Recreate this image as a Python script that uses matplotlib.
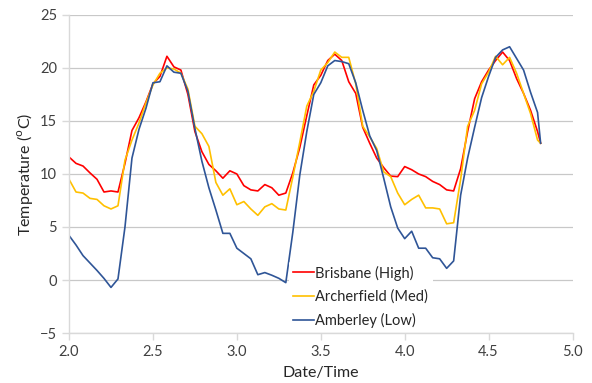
import numpy as np
import matplotlib.pyplot as plt

# hourly readings (days since start), last point at end of record
hours = np.arange(68)
time_days = np.append(2 + hours / 24, 4.81)

brisbane = [11.6, 11.0, 10.75, 10.1, 9.5, 8.3, 8.4, 8.3, 11.0, 14.1,
            15.3, 16.8, 18.5, 19.2, 21.1, 20.1, 19.8, 17.5, 14.0, 12.1,
            10.9, 10.3, 9.6, 10.3, 10.0, 8.9, 8.5, 8.4, 9.0, 8.7,
            8.0, 8.2, 10.1, 12.5, 15.5, 18.4, 19.3, 20.7, 21.3, 20.7,
            18.7, 17.6, 14.4, 12.9, 11.5, 10.6, 9.8, 9.75, 10.7, 10.4,
            10.0, 9.75, 9.3, 9.0, 8.5, 8.4, 10.5, 14.0, 17.1, 18.7,
            19.8, 20.7, 21.5, 20.7, 19.0, 17.6, 16.0, 14.0, 12.9]

archerfield = [9.5, 8.3, 8.2, 7.7, 7.6, 7.0, 6.7, 7.0, 11.3, 13.2,
               14.8, 16.7, 18.4, 19.5, 20.0, 19.9, 19.5, 18.0, 14.5, 13.8,
               12.6, 9.2, 8.0, 8.6, 7.1, 7.4, 6.7, 6.1, 6.9, 7.2,
               6.7, 6.6, 9.7, 13.0, 16.4, 17.8, 19.8, 20.5, 21.5, 21.0,
               21.0, 18.5, 14.5, 13.5, 12.4, 10.2, 9.75, 8.2, 7.1, 7.6,
               8.0, 6.8, 6.8, 6.7, 5.3, 5.4, 9.5, 14.5, 16.0, 18.5,
               19.6, 21.1, 20.3, 21.0, 19.5, 17.6, 15.7, 13.2, 12.9]

amberley = [4.2, 3.3, 2.3, 1.6, 0.9, 0.15, -0.7, 0.1, 5.0, 11.5,
            14.2, 16.2, 18.6, 18.7, 20.2, 19.6, 19.5, 17.8, 14.3, 11.2,
            8.7, 6.6, 4.4, 4.4, 3.0, 2.5, 2.0, 0.5, 0.7, 0.45,
            0.16, -0.25, 4.5, 9.9, 14.0, 17.5, 18.6, 20.2, 20.7, 20.6,
            20.4, 18.6, 16.0, 13.6, 12.2, 9.6, 6.9, 4.9, 3.9, 4.6,
            3.0, 3.0, 2.1, 2.0, 1.1, 1.8, 8.0, 11.5, 14.4, 17.2,
            19.2, 21.0, 21.7, 22.0, 20.9, 19.8, 17.7, 15.8, 12.9]

plt.rcParams['font.family'] = ['Lato', 'DejaVu Sans']

fig = plt.figure(figsize=(5.92, 3.83), dpi=100)
ax = fig.add_axes([0.1166, 0.1305, 0.8505, 0.8305])

ax.plot(time_days, brisbane, color='#ff0000', lw=1.2, label='Brisbane (High)')
ax.plot(time_days, archerfield, color='#ffc000', lw=1.2, label='Archerfield (Med)')
ax.plot(time_days, amberley, color='#2f5597', lw=1.2, label='Amberley (Low)')

ax.set_xlim(2.0, 5.0)
ax.set_ylim(-5, 25)
ax.set_xticks(np.arange(2.0, 5.01, 0.5))
ax.set_xticklabels(['%.1f' % v for v in np.arange(2.0, 5.01, 0.5)])
ax.set_yticks(np.arange(-5, 26, 5))

ax.grid(axis='y', color='#c8c8c8', lw=0.9)
ax.set_axisbelow(True)
for side in ['top', 'right']:
    ax.spines[side].set_visible(False)
for side in ['left', 'bottom']:
    ax.spines[side].set_color('#d9d9d9')
    ax.spines[side].set_linewidth(1.0)
ax.tick_params(axis='both', colors='#d9d9d9', length=5, width=1.0,
               labelcolor='#404040', labelsize=10.5)

ax.set_xlabel('Date/Time', fontsize=11.5, color='#262626', labelpad=5)
ax.set_ylabel(r'Temperature ($^{\mathrm{o}}$C)', fontsize=11.5, color='#262626', labelpad=4)

leg = ax.legend(loc='upper left', bbox_to_anchor=(0.437, 0.226), frameon=True,
                fontsize=10.5, handlelength=1.4, handletextpad=0.1,
                labelspacing=0.62, borderaxespad=0, borderpad=0.3)
leg.get_frame().set_facecolor('white')
leg.get_frame().set_edgecolor('none')
leg.get_frame().set_alpha(1.0)
for t in leg.get_texts():
    t.set_color('#262626')

fig.savefig('out.png', dpi=100)
